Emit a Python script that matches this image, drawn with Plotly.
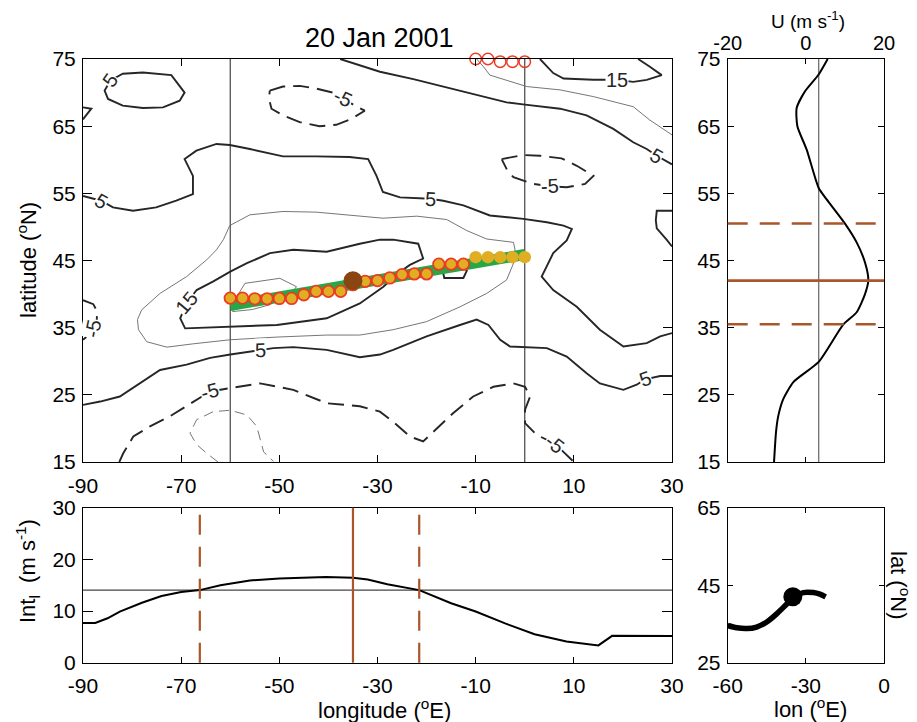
import plotly.graph_objects as go

# ---------------- data ----------------
title_text = "20 Jan 2001"

# main panel ticks
lon_ticks = [-90, -70, -50, -30, -10, 10, 30]
lat_ticks = [15, 25, 35, 45, 55, 65, 75]
lon_range = [-90, 30]
lat_range = [15, 75]
box_lons = [-60, 0]

# contour lines (level, lon, lat)
c5_nw_lon = [-84.4, -81.9, -77.8, -72.0, -69.3, -70.3, -73.7, -77.8, -81.9, -84.9, -85.6, -84.4]
c5_nw_lat = [71.8, 72.8, 73.0, 72.6, 70.0, 68.8, 67.8, 67.7, 68.05, 69.05, 70.3, 71.8]

c5_notch_lon = [-90, -88.3, -89.7, -90]
c5_notch_lat = [67.8, 67.6, 66.3, 66.0]

c5_north_lon = [-90, -86.3, -83.9, -79.8, -75.1, -71.0, -67.6, -67.6, -69.3, -66.9, -62.8, -60.1, -56.0,
                -49.25, -42.5, -35.7, -31.9, -30.2, -28.9, -25.4, -19.3, -16.6, -12.5, -7.1, -0.3, 4.5,
                7.9, 9.6, 8.55, 5.8, 3.45, 5.8, 10.6, 15.3, 20.1, 24.85, 27.6, 30]
c5_north_lat = [54.6, 53.9, 52.9, 52.4, 52.9, 53.9, 54.9, 57.6, 60.1, 61.35, 62.35, 62.2, 61.6,
                60.5, 60.5, 60.4, 60.1, 57.6, 55.2, 54.4, 54.2, 53.9, 53.2, 51.7, 51.2, 50.7,
                50.2, 49.7, 48.0, 46.1, 42.6, 40.6, 38.1, 34.7, 32.2, 32.7, 33.7, 34.2]

c5_ne_lon = [30, 26.9, 26.7, 26.9, 28.9, 30]
c5_ne_lat = [52.4, 52.4, 51.0, 49.8, 48.1, 47.1]

c5_top_lon = [-37.6, -33.6, -29.5, -22.7, -15.9, -9.1, -3.7, 0.06, 7.2, 12.6, 18.05, 22.1, 24.85, 26.9, 29.6, 30]
c5_top_lat = [75, 74.1, 73.1, 72.0, 70.8, 69.5, 68.55, 68.2, 67.6, 66.6, 64.6, 62.6, 61.6, 60.6, 59.4, 59.3]

c10_top_lon = [-9.8, -8.4, -7.1, 0.4, 7.2, 14.0, 22.1, 25.5, 30]
c10_top_lat = [75, 73.85, 72.6, 70.9, 70.4, 69.4, 67.9, 65.9, 63.7]

c15_top_lon = [3.1, 5.8, 7.9, 14.0, 18.7, 22.1, 24.85, 27.9, 25.5, 23.1]
c15_top_lat = [75, 72.9, 72.1, 71.9, 71.9, 71.6, 71.9, 72.6, 73.85, 75]

cm5_top_lon = [-51.95, -49.25, -45.85, -42.5, -39.1, -37.0, -34.6, -32.6, -35.3, -38.4, -41.8, -45.85,
               -49.25, -51.6, -52.1, -51.95]
cm5_top_lat = [70.3, 70.9, 71.0, 70.6, 70.0, 69.15, 68.05, 67.3, 66.1, 65.2, 65.0, 65.6, 66.6, 67.6, 69.05, 70.3]

cm5_east_lon = [-4.7, -0.3, 3.1, 7.5, 10.6, 14.0, 12.3, 8.55, 5.15, 1.75, -2.3, -3.55, -4.7]
cm5_east_lat = [60.1, 60.7, 60.6, 60.2, 59.1, 57.6, 56.4, 55.9, 56.05, 56.4, 57.4, 58.4, 60.1]

c10_jet_lon = [-61.4, -60.1, -56.0, -49.25, -42.5, -35.7, -28.9, -22.0, -15.9, -11.8, -7.75, -2.3, -2.0,
               -2.0, -3.7, -7.75, -13.2, -20.0, -26.8, -33.6, -40.35, -50.5, -60.0, -67.5, -72.9, -77.0,
               -78.7, -78.9, -78.05, -74.3, -68.9, -64.8, -62.8, -61.4]
c10_jet_lat = [48.1, 50.2, 51.8, 52.3, 52.2, 51.7, 51.3, 51.6, 51.1, 49.45, 48.2, 47.7, 46.7,
               45.1, 42.1, 40.1, 38.1, 35.9, 34.7, 33.9, 33.9, 33.6, 33.2, 32.6, 32.1, 32.9,
               34.7, 36.2, 37.65, 40.1, 42.6, 45.1, 46.6, 48.1]

c15_jet_lon = [-68.9, -66.85, -63.45, -60.0, -56.6, -51.9, -47.15, -40.35, -33.6, -29.5, -26.8, -21.7,
               -20.7, -23.4, -26.0, -28.8, -33.6, -40.35, -50.5, -60.0, -69.2, -70.2, -68.9]
c15_jet_lat = [38.6, 40.6, 41.9, 43.35, 44.6, 46.1, 46.6, 46.3, 47.5, 48.1, 48.1, 47.5,
               45.3, 44.35, 43.0, 41.1, 38.6, 36.4, 35.4, 35.1, 34.9, 36.4, 38.6]

c15_small_lon = [-17.2, -16.6, -16.4, -12.5, -11.8, -13.0, -17.2]
c15_small_lat = [44.0, 43.1, 42.4, 42.4, 43.5, 44.6, 44.0]

c20_jet_lon = [-59.5, -58.5, -57.0, -53.5, -49.9, -46.5, -47.5, -52.0, -55.5, -59.5]
c20_jet_lat = [37.4, 39.8, 41.6, 42.0, 42.35, 41.1, 40.2, 38.4, 37.7, 37.4]

c5_south_lon = [-90, -86.5, -82.5, -78.4, -74.3, -68.9, -64.1, -60.0, -53.9, -51.2, -47.15, -40.35, -33.6,
                -29.5, -26.8, -20.0, -13.2, -9.8, -7.4, -5.0, -3.0, 0.4, 4.5, 8.55, 12.6, 15.3, 20.1,
                22.8, 24.5, 27.6, 30]
c5_south_lat = [23.5, 24.0, 24.75, 26.7, 28.7, 29.5, 30.5, 31.0, 31.7, 31.95, 32.1, 31.7, 30.6,
                31.0, 31.7, 33.7, 35.4, 36.2, 35.4, 33.2, 32.2, 32.1, 31.95, 30.7, 28.2, 26.7, 25.75,
                26.5, 27.3, 27.8, 27.8]

cm5_west_lon = [-90, -87.9, -87.1, -87.2, -87.9, -89.2, -90]
cm5_west_lat = [39.1, 38.5, 37.4, 36.2, 34.9, 33.7, 33.2]

cm5_south_lon = [-82.6, -81.8, -79.75, -76.35, -72.3, -68.9, -64.1, -60.0, -53.9, -47.15, -40.35, -33.6,
                 -29.5, -26.8, -23.4, -20.7, -18.6, -14.55, -10.5, -6.4, -2.3, 0.06, 1.1, 0.06, 0.06,
                 2.4, 6.2, 9.9, 10.0]
cm5_south_lat = [15, 16.3, 18.8, 20.3, 21.8, 23.3, 25.5, 26.0, 26.7, 25.75, 23.75, 23.3,
                 22.5, 21.0, 18.8, 18.05, 19.55, 22.3, 24.75, 26.2, 26.7, 26.2, 24.75, 22.8, 20.8,
                 19.05, 17.7, 15.1, 15]

cm10_south_lon = [-62.5, -64.8, -66.85, -68.2, -66.85, -63.45, -60.0, -56.6, -54.6, -53.9, -53.2, -51.2]
cm10_south_lat = [15, 16.3, 17.6, 19.3, 21.3, 22.5, 22.7, 22.0, 20.3, 18.3, 16.5, 15.1]

contour_lines = [
    (5, c5_nw_lon, c5_nw_lat), (5, c5_notch_lon, c5_notch_lat), (5, c5_north_lon, c5_north_lat),
    (5, c5_ne_lon, c5_ne_lat), (5, c5_top_lon, c5_top_lat), (10, c10_top_lon, c10_top_lat),
    (15, c15_top_lon, c15_top_lat), (-5, cm5_top_lon, cm5_top_lat), (-5, cm5_east_lon, cm5_east_lat),
    (10, c10_jet_lon, c10_jet_lat), (15, c15_jet_lon, c15_jet_lat), (15, c15_small_lon, c15_small_lat),
    (20, c20_jet_lon, c20_jet_lat), (5, c5_south_lon, c5_south_lat), (-5, cm5_west_lon, cm5_west_lat),
    (-5, cm5_south_lon, cm5_south_lat), (-10, cm10_south_lon, cm10_south_lat),
]

# contour labels: lon, lat, text, angle
label_lon = [-84.4, -37.0, 18.7, 26.9, -86.3, -19.3, 5.15, -68.9, -87.9, -53.9, -64.1, 24.5, 6.2]
label_lat = [71.8, 69.15, 71.9, 60.6, 53.9, 54.2, 56.05, 38.6, 34.9, 31.7, 25.5, 27.3, 17.7]
label_txt = ["5", "-5", "15", "5", "5", "5", "-5", "15", "-5", "5", "-5", "5", "-5"]
label_ang = [-55, 25, 0, 30, 30, 3, -3, -50, -78, -2, -15, -20, 38]

# jet axis points
jet_lon = [-60, -57.5, -55, -52.5, -50, -47.5, -45, -42.5, -40, -37.5, -35, -32.5, -30,
           -27.5, -25, -22.5, -20, -17.5, -15, -12.5, -10, -7.5, -5, -2.5, 0]
jet_lat = [39.4, 39.4, 39.3, 39.3, 39.35, 39.35, 39.9, 40.4, 40.4, 40.4, 41.4, 41.9, 42.0,
           42.4, 42.9, 43.0, 43.0, 44.45, 44.45, 44.45, 45.5, 45.5, 45.5, 45.5, 45.5]
jet_found = [True] * 20 + [False] * 5
missing_lon = [-10, -7.5, -5, -2.5, 0]
missing_lat = [75, 75, 74.6, 74.6, 74.6]
fit_lon = [-60, 0]
fit_lat = [38.3, 45.9]
jet_center_lon = -35
jet_center_lat = 42.0
jet_lat_bounds = [35.5, 50.5]
jet_lon_bounds = [-66.2, -21.5]

# U profile
u_lat = [75, 72.7, 70.2, 67.7, 65.0, 61.5, 55.8, 54.1, 50.5, 47.7, 44.7, 42.1, 40.0, 37.3, 35.5,
         29.9, 26.9, 24.4, 21.9, 19.5, 15]
u_val = [5.59, 3.28, -0.21, -2.35, -2.17, 0.21, 3.28, 5.33, 10.02, 13.0, 15.14, 15.99, 15.14, 13.0, 9.6,
         3.28, -3.2, -5.76, -7.04, -7.63, -8.14]
u_ref = 3.3
u_ticks = [-20, 0, 20]
u_range = [-20, 20]

# Int_l vs longitude
int_lon = [-90, -87.5, -85, -82.5, -78, -74, -70, -66.2, -62, -56, -50, -46, -40.5, -35, -32, -28,
           -21.5, -15, -10, -4, 2, 8.5, 15, 17.8, 22, 30]
int_val = [7.7, 7.7, 8.6, 9.9, 11.6, 12.9, 13.7, 14.05, 15.0, 15.9, 16.3, 16.4, 16.6, 16.45, 16.1, 15.2,
           14.05, 11.5, 9.9, 7.6, 5.5, 4.1, 3.35, 5.2, 5.2, 5.15]
int_threshold = 14.05
int_ticks = [0, 10, 20, 30]
int_range = [0, 30]

# jet path lon/lat
path_lon = [-60, -56.5, -52.7, -48.9, -45.0, -41.2, -37.4, -34.5, -31.0, -27.1, -24.6, -22.4]
path_lat = [34.6, 34.0, 33.8, 34.2, 35.5, 37.6, 40.1, 42.0, 43.1, 43.1, 42.7, 42.0]
path_lon_ticks = [-60, -30, 0]
path_lat_ticks = [25, 45, 65]
path_lon_range = [-60, 0]
path_lat_range = [25, 65]

# ---------------- styles ----------------
FONT = "Liberation Sans, Arial, sans-serif"
TICK_SIZE = 21
BROWN = "#A8562A"
BROWN_DOT = "#8B4513"
GOLD = "#E0AE22"
RED = "#EE3A24"
GREEN = "#25A845"

# the page adds an 8px body margin, so the figure is laid out 8px smaller and offset
OFF = 8
W, H = 917 - OFF, 722 - OFF
def px(x):
    return (x - OFF) / W
def py(y):
    return 1 - (y - OFF) / H

main_x = [px(83), px(672)]
main_y = [py(462), py(59)]
side_x = [px(727.7), px(884)]
bot_y = [py(662.7), py(507.7)]

fig = go.Figure()

def contour_style(level):
    thick = (abs(level) // 5) % 2 == 1
    if thick:
        color, width = "#262626", 1.9
    else:
        color, width = "#666666", 0.9
    if level < 0:
        dash = "16px,8px" if thick else "10px,6px"
    else:
        dash = "solid"
    return dict(color=color, width=width, dash=dash)

for level, lo, la in contour_lines:
    fig.add_trace(go.Scatter(x=lo, y=la, mode="lines", line=contour_style(level),
                             xaxis="x", yaxis="y", hoverinfo="skip", cliponaxis=True))

# green fit line
fig.add_trace(go.Scatter(x=fit_lon, y=fit_lat, mode="lines", line=dict(color=GREEN, width=11),
                         xaxis="x", yaxis="y"))
# jet points
found_lon = [lo for lo, f in zip(jet_lon, jet_found) if f]
found_lat = [la for la, f in zip(jet_lat, jet_found) if f]
nf_lon = [lo for lo, f in zip(jet_lon, jet_found) if not f]
nf_lat = [la for la, f in zip(jet_lat, jet_found) if not f]
fig.add_trace(go.Scatter(x=found_lon, y=found_lat, mode="markers",
                         marker=dict(size=11.5, color=GOLD, line=dict(color=RED, width=1.8)),
                         xaxis="x", yaxis="y"))
fig.add_trace(go.Scatter(x=nf_lon, y=nf_lat, mode="markers",
                         marker=dict(size=12.5, color=GOLD, line=dict(width=0)),
                         xaxis="x", yaxis="y"))
fig.add_trace(go.Scatter(x=missing_lon, y=missing_lat, mode="markers",
                         marker=dict(size=11.5, color="rgba(0,0,0,0)", line=dict(color=RED, width=1.5)),
                         xaxis="x", yaxis="y", cliponaxis=False))
fig.add_trace(go.Scatter(x=[jet_center_lon], y=[jet_center_lat], mode="markers",
                         marker=dict(size=19, color=BROWN_DOT), xaxis="x", yaxis="y"))

# U profile
fig.add_trace(go.Scatter(x=u_val, y=u_lat, mode="lines", line=dict(color="black", width=2, shape="spline", smoothing=0.6),
                         xaxis="x2", yaxis="y2"))
# Int_l curve
fig.add_trace(go.Scatter(x=int_lon, y=int_val, mode="lines", line=dict(color="black", width=2),
                         xaxis="x3", yaxis="y3"))
# path
fig.add_trace(go.Scatter(x=path_lon, y=path_lat, mode="lines",
                         line=dict(color="black", width=5.5, shape="spline", smoothing=0.8),
                         xaxis="x4", yaxis="y4"))
fig.add_trace(go.Scatter(x=[jet_center_lon], y=[jet_center_lat], mode="markers",
                         marker=dict(size=19, color="black"), xaxis="x4", yaxis="y4"))

shapes = []
for bl in box_lons:
    shapes.append(dict(type="line", xref="x", yref="y domain", x0=bl, x1=bl, y0=0, y1=1,
                       line=dict(color="#444444", width=1.2), layer="below"))
shapes.append(dict(type="line", xref="x2", yref="y2 domain", x0=u_ref, x1=u_ref, y0=0, y1=1,
                   line=dict(color="#555555", width=1.1), layer="below"))
shapes.append(dict(type="line", xref="x2 domain", yref="y2", x0=0, x1=1, y0=jet_center_lat, y1=jet_center_lat,
                   line=dict(color=BROWN, width=2.6)))
for b in jet_lat_bounds:
    shapes.append(dict(type="line", xref="x2 domain", yref="y2", x0=0, x1=1, y0=b, y1=b,
                       line=dict(color=BROWN, width=2.6, dash="20px,12px")))
shapes.append(dict(type="line", xref="x3 domain", yref="y3", x0=0, x1=1, y0=int_threshold, y1=int_threshold,
                   line=dict(color="#444444", width=1.1), layer="below"))
shapes.append(dict(type="line", xref="x3", yref="y3 domain", x0=jet_center_lon, x1=jet_center_lon, y0=0, y1=1,
                   line=dict(color=BROWN, width=2.2)))
for b in jet_lon_bounds:
    shapes.append(dict(type="line", xref="x3", yref="y3 domain", x0=b, x1=b, y0=0, y1=1,
                       line=dict(color=BROWN, width=2.2, dash="20px,12px")))

annotations = []
for lo, la, t, a in zip(label_lon, label_lat, label_txt, label_ang):
    annotations.append(dict(x=lo, y=la, xref="x", yref="y", text=t, showarrow=False, textangle=a,
                            font=dict(family=FONT, size=20, color="#262626"), bgcolor="white", borderpad=0))

def paper_text(x, y, text, size=22, angle=0):
    annotations.append(dict(x=px(x), y=py(y), xref="paper", yref="paper", text=text, showarrow=False,
                            textangle=angle, font=dict(family=FONT, size=size, color="black"),
                            xanchor="center", yanchor="middle"))

paper_text(379, 38, title_text, size=27)
paper_text(27, 260, "latitude (<sup>o</sup>N)", angle=-90)
paper_text(808, 20, "U (m s<sup>-1</sup>)", size=19)
paper_text(27, 571, "Int<sub>l</sub>  (m s<sup>-1</sup>)", angle=-90)
paper_text(384, 709, "longitude (<sup>o</sup>E)")
paper_text(810, 708, "lon (<sup>o</sup>E)")
paper_text(900, 585, "lat (<sup>o</sup>N)", angle=90)

def axis(domain, rng, ticks, anchor, ticklen, side=None, standoff=0, size=TICK_SIZE):
    d = dict(domain=domain, range=rng, tickmode="array", tickvals=ticks,
             ticktext=[str(t) for t in ticks], ticks="inside", ticklen=ticklen,
             tickcolor="black", tickwidth=1, showline=True, linecolor="black", linewidth=1, mirror="allticks",
             showgrid=False, zeroline=False, anchor=anchor, automargin=False,
             ticklabelstandoff=standoff,
             tickfont=dict(family=FONT, size=size, color="black"))
    if side:
        d["side"] = side
    return d

fig.update_layout(
    template="none",
    width=W, height=H, margin=dict(l=0, r=0, t=0, b=0, pad=0),
    paper_bgcolor="white", plot_bgcolor="white", showlegend=False,
    xaxis=axis(main_x, lon_range, lon_ticks, "y", 7, standoff=5),
    yaxis=axis(main_y, lat_range, lat_ticks, "x", 9, standoff=2),
    xaxis2=axis(side_x, u_range, u_ticks, "y2", 5, side="top", size=20),
    yaxis2=axis(main_y, lat_range, lat_ticks, "x2", 6, standoff=2),
    xaxis3=axis(main_x, lon_range, lon_ticks, "y3", 6, standoff=4),
    yaxis3=axis(bot_y, int_range, int_ticks, "x3", 10, standoff=2),
    xaxis4=axis(side_x, path_lon_range, path_lon_ticks, "y4", 5, standoff=4),
    yaxis4=axis(bot_y, path_lat_range, path_lat_ticks, "x4", 5, standoff=2),
    shapes=shapes, annotations=annotations,
)

fig.write_html("out.html")
